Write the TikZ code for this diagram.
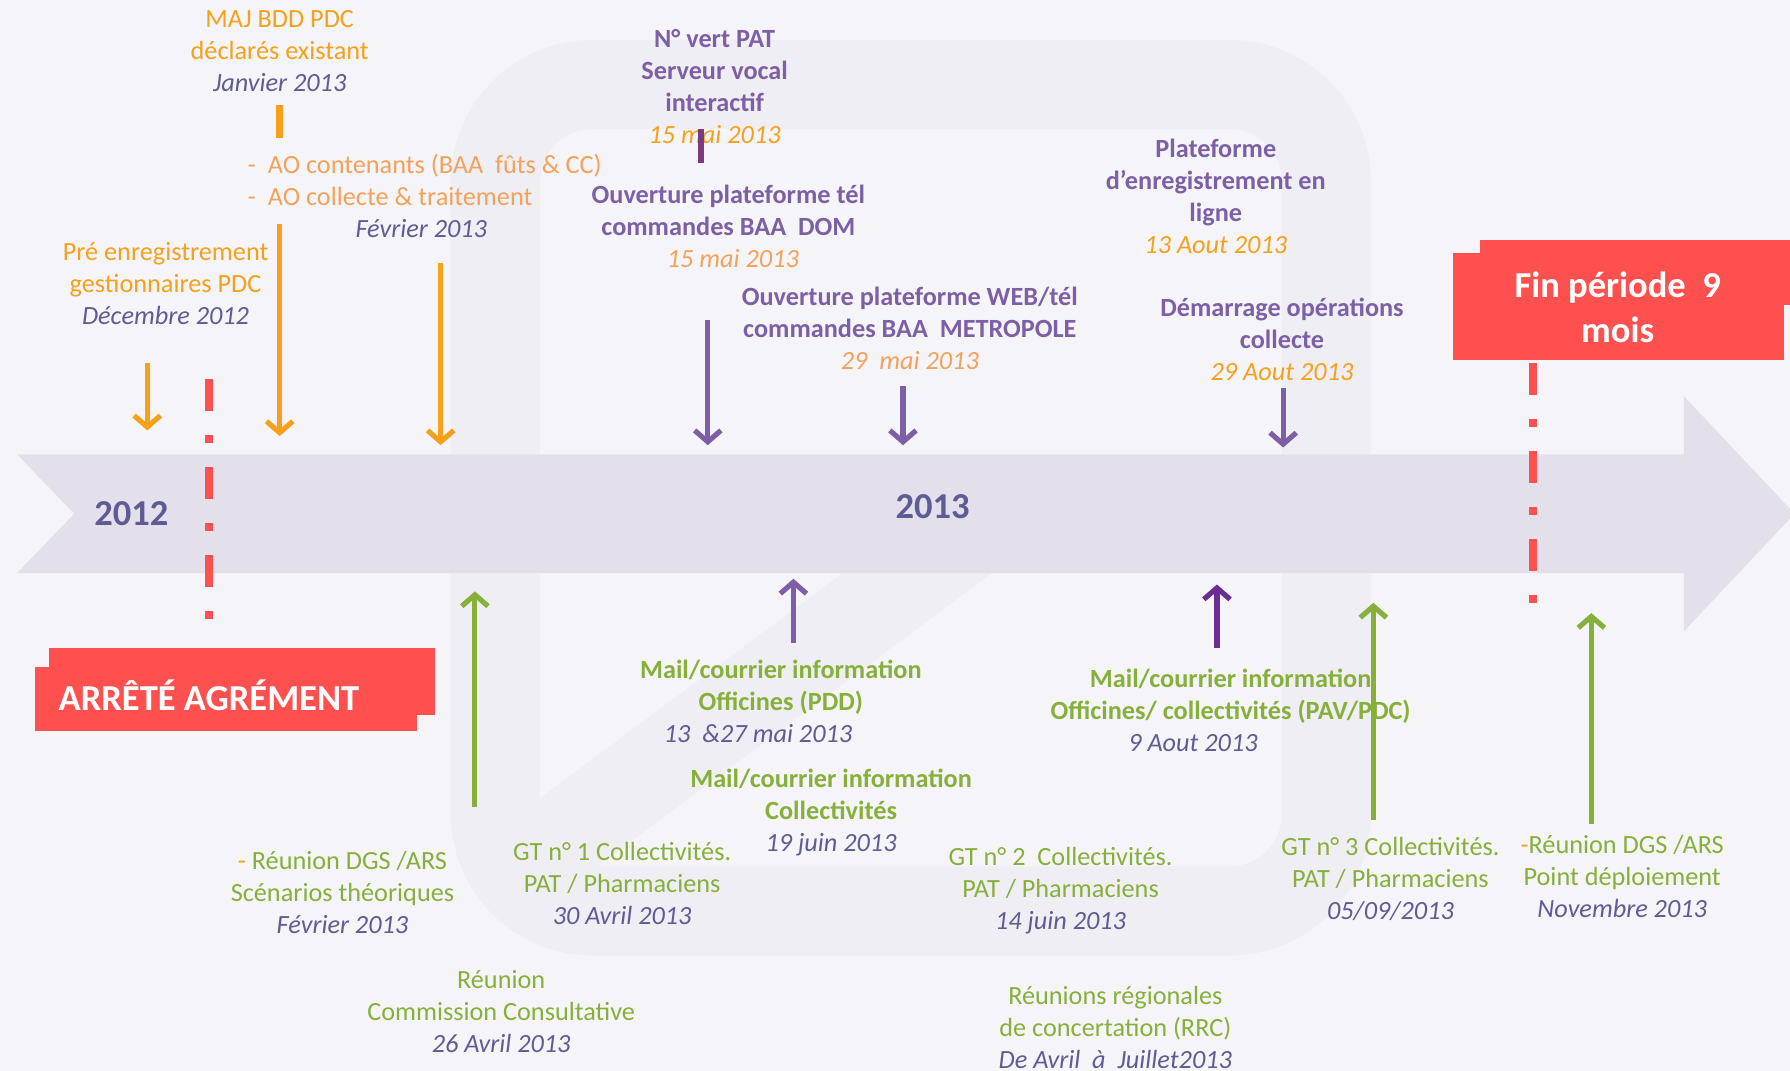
\documentclass[tikz,border=0pt]{standalone}
\usepackage{fontspec}
\setmainfont{Carlito}
\usetikzlibrary{arrows.meta}
\definecolor{bgcol}{HTML}{F5F4F9}
\definecolor{wmcol}{HTML}{F0EEF5}
\definecolor{bandcol}{HTML}{E3DFEB}
\definecolor{redcol}{HTML}{FF5050}
\definecolor{orgcol}{HTML}{F7A11A}
\definecolor{aocol}{HTML}{F4A259}
\definecolor{purcol}{HTML}{7D5FA5}
\definecolor{dpurcol}{HTML}{6B2D94}
\definecolor{stubcol}{HTML}{7A3C7E}
\definecolor{slatecol}{HTML}{5F5B94}
\definecolor{grncol}{HTML}{86B03A}
\newcommand{\evdate}[2]{{\color{#1}\mdseries\itshape #2}}
\begin{document}
\begin{tikzpicture}[x=1pt,y=-1pt,
  lbl/.style={inner sep=0pt, align=center, font=\fontsize{23}{28}\selectfont},
  orglbl/.style={lbl, text=orgcol},
  purlbl/.style={lbl, text=purcol, font=\fontsize{23}{28}\selectfont\bfseries},
  grnlbl/.style={lbl, text=grncol},
  grnbold/.style={lbl, text=grncol, font=\fontsize{23}{28}\selectfont\bfseries},
  yearlbl/.style={inner sep=0pt, text=slatecol, font=\fontsize{32}{38}\selectfont\bfseries},
  banner/.style={inner sep=0pt, align=center, text=white, font=\fontsize{32}{39}\selectfont\bfseries},
  arr/.style={line width=4.5pt, -{Straight Barb[length=10pt,width=23pt]}},
  stub/.style={line width=6pt},
  reddash/.style={redcol, line width=6.5pt, dash pattern=on 28pt off 21pt on 7pt off 21pt},
  wm/.style={wmcol, line width=78pt}]
\fill[bgcol] (0,0) rectangle (1568,938);
\useasboundingbox (0,0) rectangle (1568,938);
\draw[wm, rounded corners=85pt] (434,400) -- (434,74) -- (1162,74) -- (1162,798) -- (434,798) -- cycle;
\draw[wm, line cap=butt] (470,750) -- (860,460);
\fill[bandcol] (15,398) -- (1475,398) -- (1475,347) -- (1572,450) -- (1475,553) -- (1475,502) -- (15,502) -- (65,450) -- cycle;
\node[yearlbl] (y2012) at (115,450){2012};
\node[yearlbl] (y2013) at (817,444){2013};
\coordinate (cut1s) at (183,332);
\coordinate (cut1e) at (183,543);
\coordinate (cut2s) at (1343,318);
\coordinate (cut2e) at (1343,528);
\draw[reddash] (cut1s) -- (cut1e);
\draw[reddash] (cut2s) -- (cut2e);
\fill[redcol] (43,568) rectangle (381,626);
\fill[redcol] (31,584) rectangle (365,640);
\node[banner] (arrete) at (183,609){ARRÊTÉ AGRÉMENT};
\fill[redcol] (1296,210) rectangle (1568,267);
\fill[redcol] (1273,222) rectangle (1563,315);
\node[banner] (fin) at (1417,269){Fin période\ \ 9\\mois};
\node[orglbl] (ev1) at (245,45){MAJ BDD PDC\\déclarés existant\\\evdate{slatecol}{Janvier 2013}};
\node[lbl, text=aocol, align=left, anchor=west] (ev2) at (217,158){-\ \ AO contenants (BAA\ \ fûts \& CC)\\-\ \ AO collecte \& traitement};
\node[lbl] (ev2d) at (369,200){\evdate{slatecol}{Février 2013}};
\node[orglbl] (ev3) at (145,248){Pré enregistrement\\gestionnaires PDC\\\evdate{slatecol}{Décembre 2012}};
\node[purlbl] (ev4) at (626,76){N° vert PAT\\Serveur vocal\\interactif\\\evdate{orgcol}{15 mai 2013}};
\node[purlbl] (ev5) at (638,198){Ouverture plateforme tél\\commandes BAA\ \ DOM\\\hspace*{8pt}\evdate{aocol}{15 mai 2013}};
\node[purlbl] (ev6) at (797,288){Ouverture plateforme WEB/tél\\commandes BAA\ \ METROPOLE\\\evdate{aocol}{29\ \ mai 2013}};
\node[purlbl] (ev7) at (1065,172){Plateforme\\d’enregistrement en\\ligne\\\evdate{orgcol}{13 Aout 2013}};
\node[purlbl] (ev8) at (1123,297){Démarrage opérations\\collecte\\\evdate{orgcol}{29 Aout 2013}};
\node[grnlbl] (ev9) at (300,782){{\color{orgcol}-} Réunion DGS /ARS\\Scénarios théoriques\\\evdate{slatecol}{Février 2013}};
\node[grnlbl] (ev10) at (439,886){Réunion\\Commission Consultative\\\evdate{slatecol}{26 Avril 2013}};
\node[grnlbl] (ev11) at (545,774){GT n° 1 Collectivités.\\PAT / Pharmaciens\\\evdate{slatecol}{30 Avril 2013}};
\node[grnbold] (ev12) at (684,614){Mail/courrier information\\Officines (PDD)\\\evdate{slatecol}{13\ \ \&27 mai 2013}\hspace*{40pt}};
\node[grnbold] (ev13) at (728,712){Mail/courrier information\\Collectivités\\\evdate{slatecol}{19 juin 2013}};
\node[grnlbl] (ev14) at (929,780){GT n° 2\ \ Collectivités.\\PAT / Pharmaciens\\\evdate{slatecol}{14 juin 2013}};
\node[grnlbl] (ev15) at (977,900){Réunions régionales\\de concertation (RRC)\\\evdate{slatecol}{De Avril\ \ à\ \ Juillet2013}};
\node[grnbold] (ev16) at (1078,622){Mail/courrier information\\Officines/ collectivités (PAV/PDC)\\\evdate{slatecol}{9 Aout 2013}\hspace*{66pt}};
\node[grnlbl] (ev17) at (1218,770){GT n° 3 Collectivités.\\PAT / Pharmaciens\\\evdate{slatecol}{05/09/2013}};
\node[grnlbl] (ev18) at (1421,768){{\color{orgcol}-}Réunion DGS /ARS\\Point déploiement\\\evdate{slatecol}{Novembre 2013}};
\coordinate (st1s) at (245,92);
\coordinate (st1e) at (245,121);
\coordinate (st2s) at (614,113);
\coordinate (st2e) at (614,143);
\draw[stub, orgcol](st1s) -- (st1e);
\draw[stub, stubcol](st2s) -- (st2e);
\coordinate (ar1s) at (129,318);
\coordinate (ar1e) at (129,377);
\coordinate (ar2s) at (245,196);
\coordinate (ar2e) at (245,382);
\coordinate (ar3s) at (386,230);
\coordinate (ar3e) at (386,390);
\coordinate (ar4s) at (620,280);
\coordinate (ar4e) at (620,390);
\coordinate (ar5s) at (791,338);
\coordinate (ar5e) at (791,390);
\coordinate (ar6s) at (1124,340);
\coordinate (ar6e) at (1124,392);
\draw[arr, orgcol](ar1s) -- (ar1e);
\draw[arr, orgcol](ar2s) -- (ar2e);
\draw[arr, orgcol](ar3s) -- (ar3e);
\draw[arr, purcol](ar4s) -- (ar4e);
\draw[arr, purcol](ar5s) -- (ar5e);
\draw[arr, purcol](ar6s) -- (ar6e);
\coordinate (ar7s) at (416,707);
\coordinate (ar7e) at (416,518);
\coordinate (ar8s) at (695,563);
\coordinate (ar8e) at (695,507);
\coordinate (ar9s) at (1066,568);
\coordinate (ar9e) at (1066,512);
\coordinate (ar10s) at (1203,718);
\coordinate (ar10e) at (1203,528);
\coordinate (ar11s) at (1394,722);
\coordinate (ar11e) at (1394,537);
\draw[arr, grncol](ar7s) -- (ar7e);
\draw[arr, purcol](ar8s) -- (ar8e);
\draw[arr, dpurcol](ar9s) -- (ar9e);
\draw[arr, grncol](ar10s) -- (ar10e);
\draw[arr, grncol](ar11s) -- (ar11e);
\end{tikzpicture}
\end{document}
